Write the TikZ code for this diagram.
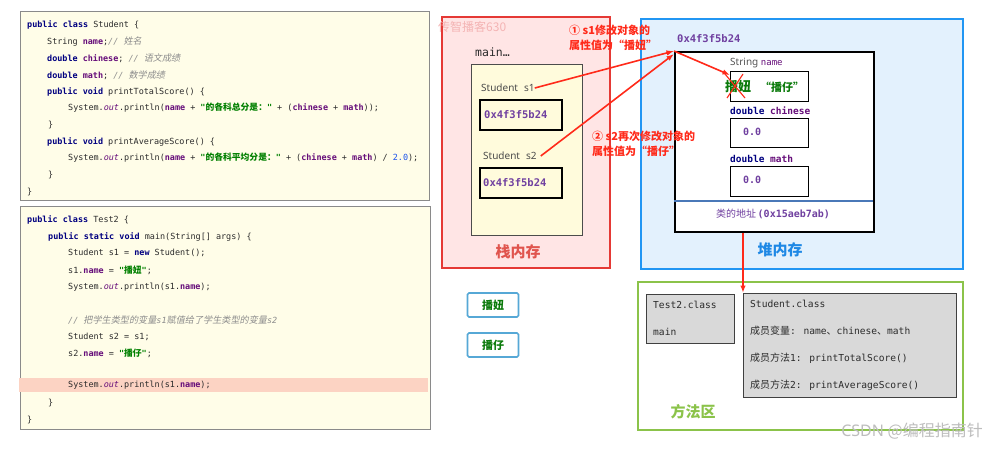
\documentclass[tikz,border=0pt]{standalone}
\usepackage{fontspec}
\setmainfont{Noto Sans}
\newfontfamily\codefont[Ligatures=TeXOff]{DejaVu Sans Mono}
\newfontfamily\cjkfont{Noto Sans CJK SC}
\newfontfamily\cjkcode[Scale=1.04]{Noto Sans CJK SC}
\newfontfamily\cjkitfont[FakeSlant=0.2,Scale=1.08]{Noto Sans CJK SC}
\newfontfamily\wmsans{Noto Sans}
\usetikzlibrary{arrows.meta}
\definecolor{codebg}{HTML}{FFFDE8}
\definecolor{codeframe}{HTML}{8A8A8A}
\definecolor{kwc}{HTML}{000080}
\definecolor{fldcol}{HTML}{660E7A}
\definecolor{strcol}{HTML}{008000}
\definecolor{cmtcol}{HTML}{8C8C8C}
\definecolor{numcol}{HTML}{1750EB}
\definecolor{plain}{HTML}{2B2B2B}
\definecolor{hl}{HTML}{FCD3C3}
\definecolor{stackfill}{HTML}{FFE5E5}
\definecolor{stackline}{HTML}{E53935}
\definecolor{inneryel}{HTML}{FFFBDC}
\definecolor{heapfill}{HTML}{E3F1FD}
\definecolor{heapline}{HTML}{2196F3}
\definecolor{arrowred}{HTML}{FF2A1A}
\definecolor{methline}{HTML}{8BC34A}
\definecolor{classgray}{HTML}{D9D9D9}
\definecolor{addrcol}{HTML}{7040A0}
\definecolor{greentxt}{HTML}{0A7A0A}
\definecolor{wmpink}{HTML}{F4B4B4}
\definecolor{wmgray}{HTML}{BDBDBD}
\definecolor{stacktitle}{HTML}{E0554E}
\definecolor{heaptitle}{HTML}{1E88E5}
\definecolor{methtitle}{HTML}{8BC34A}
\definecolor{divider}{HTML}{4A78B8}
\definecolor{valline}{HTML}{56A8D6}
\newcommand\zh[1]{{\cjkcode#1}}
\newcommand\kwd[1]{\textcolor{kwc}{\bfseries#1}}
\newcommand\fld[1]{\textcolor{fldcol}{\bfseries#1}}
\newcommand\outf[1]{\textcolor{fldcol}{\itshape#1}}
\newcommand\strg[1]{\textcolor{strcol}{\bfseries#1}}
\newcommand\cmt[1]{\textcolor{cmtcol}{\itshape#1}}
\newcommand\zhit[1]{{\cjkitfont#1}}
\newcommand\numv[1]{\textcolor{numcol}{#1}}
\tikzset{
  codebox/.style={draw=codeframe, fill=codebg, line width=0.9pt},
  codeline/.style={anchor=west, inner sep=0pt, font=\codefont\fontsize{8.45}{10}\selectfont, text=plain},
  sanslabel/.style={anchor=west, inner sep=0pt, font=\fontsize{10}{12}\selectfont, text=plain!85},
  addrbox/.style={draw=black, line width=1.2pt, fill=none},
  addrtext/.style={anchor=west, inner sep=0pt, font=\codefont\bfseries\fontsize{10.5}{12}\selectfont, text=addrcol},
  fieldbox/.style={draw=black, line width=1.2pt, fill=white},
  redarrow/.style={draw=arrowred, line width=1.6pt, -{Latex[length=7.5pt,width=5.5pt]}},
  anno/.style={anchor=west, inner sep=0pt, align=left, font=\cjkfont\bfseries\fontsize{11}{15.5}\selectfont, text=arrowred},
  title/.style={inner sep=0pt, font=\cjkfont\bfseries\fontsize{15}{17}\selectfont},
  valbox/.style={draw=valline, line width=1.6pt, rounded corners=1.5pt, fill=white, minimum width=51pt, minimum height=24pt, inner sep=0pt, font=\cjkfont\bfseries\fontsize{11}{13}\selectfont, text=greentxt},
  classbox/.style={draw=black!75, line width=1.1pt, fill=classgray},
  classtext/.style={anchor=west, inner sep=0pt, font=\codefont\fontsize{9.6}{11}\selectfont, text=plain},
}
\begin{document}
\begin{tikzpicture}[x=1pt,y=-1pt]
\useasboundingbox (0,0) rectangle (999,450);
\fill[white] (0,0) rectangle (999,450);

% ---------------- code box 1 ----------------
\draw[codebox] (20,11) rectangle (429,200);
\node[codeline] (a1) at (27,25) {\kwd{public class} Student \{};
\node[codeline] (a2) at (47,42) {String \fld{name};\cmt{// \zhit{姓名}}};
\node[codeline] (a3) at (47,58) {\kwd{double} \fld{chinese}; \cmt{// \zhit{语文成绩}}};
\node[codeline] (a4) at (47,75) {\kwd{double} \fld{math}; \cmt{// \zhit{数学成绩}}};
\node[codeline] (a5) at (47,92) {\kwd{public void} printTotalScore() \{};
\node[codeline] (a6) at (68,108) {System.\outf{out}.println(\fld{name} + \strg{"\zh{的各科总分是：}"} + (\fld{chinese} + \fld{math}));};
\node[codeline] (a7) at (48,125) {\}};
\node[codeline] (a8) at (47,142) {\kwd{public void} printAverageScore() \{};
\node[codeline] (a9) at (68,158) {System.\outf{out}.println(\fld{name} + \strg{"\zh{的各科平均分是：}"} + (\fld{chinese} + \fld{math}) / \numv{2.0});};
\node[codeline] (a10) at (48,175) {\}};
\node[codeline] (a11) at (27,192) {\}};

% ---------------- code box 2 ----------------
\draw[codebox] (20,206) rectangle (430,429);
\fill[hl] (19,378) rectangle (428,392);
\node[codeline] (b1) at (27,220) {\kwd{public class} Test2 \{};
\node[codeline] (b2) at (48,237) {\kwd{public static void} main(String[] args) \{};
\node[codeline] (b3) at (68,253) {Student s1 = \kwd{new} Student();};
\node[codeline] (b4) at (68,270) {s1.\fld{name} = \strg{"\zh{播妞}"};};
\node[codeline] (b5) at (68,287) {System.\outf{out}.println(s1.\fld{name});};
\node[codeline] (b6) at (68,320) {\cmt{// \zhit{把学生类型的变量}s1\zhit{赋值给了学生类型的变量}s2}};
\node[codeline] (b7) at (68,337) {Student s2 = s1;};
\node[codeline] (b8) at (68,353) {s2.\fld{name} = \strg{"\zh{播仔}"};};
\node[codeline] (b9) at (68,385) {System.\outf{out}.println(s1.\fld{name});};
\node[codeline] (b10) at (48,403) {\}};
\node[codeline] (b11) at (27,420) {\}};

% ---------------- stack ----------------
\draw[fill=stackfill, draw=stackline, line width=1.8pt] (442,17) rectangle (610,268);
\node[anchor=west, inner sep=0pt, font=\cjkfont\fontsize{12}{14}\selectfont, text=wmpink] (wm1) at (438,27) {传智播客630};
\node[anchor=west, inner sep=0pt, font=\codefont\fontsize{11.5}{13}\selectfont, text=plain] (mainlab) at (475,52) {main…};
\draw[fill=inneryel, draw=black!70, line width=1pt] (471,64) rectangle (582,235);
\node[sanslabel] (s1lab) at (481,88) {Student\hspace{6pt}s1};
\draw[addrbox] (480,100) rectangle (562,130);
\node[addrtext] (s1addr) at (484,115) {0x4f3f5b24};
\node[sanslabel] (s2lab) at (483,156) {Student\hspace{6pt}s2};
\draw[addrbox] (480,168) rectangle (562,198);
\node[addrtext] (s2addr) at (483,183) {0x4f3f5b24};
\node[title, text=stacktitle] (stacktitle) at (518,252) {栈内存};

% ---------------- heap ----------------
\draw[fill=heapfill, draw=heapline, line width=2.2pt] (641,19) rectangle (963,269);
\node[addrtext] (heapaddr) at (677,39) {0x4f3f5b24};
\node[draw=black, line width=1.5pt, fill=white, anchor=north west, minimum width=199pt, minimum height=180pt, inner sep=0pt] (obj) at (674,51) {};
\coordinate (divl) at (674,201);
\coordinate (divr) at (873,201);
\draw[divider, line width=1.2pt] (divl) -- (divr);
\node[font=\cjkfont\fontsize{10}{12}\selectfont, text=addrcol, inner sep=0pt] (clsaddr) at (773,214) {类的地址\,{\codefont\bfseries (0x15aeb7ab)}};

\node[anchor=west, inner sep=0pt, font=\fontsize{10}{12}\selectfont, text=plain!80] (strlab) at (730,63) {String {\codefont\fontsize{9}{10}\selectfont\textcolor{fldcol}{name}}};
\node[fieldbox, anchor=north west, minimum width=78pt, minimum height=30pt, inner sep=0pt] (namebox) at (730,71) {};
\node[anchor=west, inner sep=0pt, font=\cjkfont\bfseries\fontsize{13}{15}\selectfont, text=greentxt] (oldname) at (725,87) {播妞};
\node[anchor=west, inner sep=0pt, font=\cjkfont\bfseries\fontsize{11}{13}\selectfont, text=greentxt] (newname) at (760,87) {“播仔”};
\draw[arrowred, line width=1.1pt] (725,74) -- (745,98);
\draw[arrowred, line width=1.1pt] (727,98) -- (743,74);

\node[anchor=west, inner sep=0pt, font=\codefont\bfseries\fontsize{9.5}{11}\selectfont] (chlab) at (730,111) {\textcolor{kwc}{double} \textcolor{fldcol}{chinese}};
\node[fieldbox, anchor=north west, minimum width=78pt, minimum height=29pt, inner sep=0pt] (chbox) at (730,118) {};
\node[addrtext, font=\codefont\bfseries\fontsize{10}{12}\selectfont] (chval) at (743,132) {0.0};
\node[anchor=west, inner sep=0pt, font=\codefont\bfseries\fontsize{9.5}{11}\selectfont] (mlab) at (730,159) {\textcolor{kwc}{double} \textcolor{fldcol}{math}};
\node[fieldbox, anchor=north west, minimum width=78pt, minimum height=30pt, inner sep=0pt] (mbox) at (730,166) {};
\node[addrtext, font=\codefont\bfseries\fontsize{10}{12}\selectfont] (mval) at (743,180) {0.0};
\node[title, text=heaptitle] (heaptitle) at (780,250) {堆内存};

% ---------------- value boxes ----------------
\node[valbox] (v1) at (493,305) {播妞};
\node[valbox] (v2) at (493,345) {播仔};

% ---------------- method area ----------------
\draw[fill=white, draw=methline, line width=2.2pt] (638,282) rectangle (963,430);
\node[classbox, anchor=north west, minimum width=88pt, minimum height=49pt, inner sep=0pt] (t2class) at (646,294) {};
\node[classtext] (t2a) at (653,305) {Test2.class};
\node[classtext] (t2b) at (653,332) {main};
\node[classbox, anchor=north west, minimum width=213pt, minimum height=104pt, inner sep=0pt] (stuclass) at (743,293) {};
\node[classtext] (sc1) at (750,304) {Student.class};
\node[classtext] (sc2) at (750,331) {\zh{成员变量}: name\zh{、}chinese\zh{、}math};
\node[classtext] (sc3) at (750,358) {\zh{成员方法}1: printTotalScore()};
\node[classtext] (sc4) at (750,385) {\zh{成员方法}2: printAverageScore()};
\node[title, text=methtitle] (methtitle) at (693,412) {方法区};

% ---------------- annotations & arrows ----------------
\node[anno] (ann1) at (569,38) {① s1修改对象的\\属性值为“播妞”};
\node[anno] (ann2) at (592,144) {② s2再次修改对象的\\属性值为“播仔”};
\draw[redarrow] (s1lab.east) -- (obj.north west);
\draw[redarrow] ([xshift=4pt]s2lab.east) -- ([yshift=-3pt]obj.north west);
\draw[redarrow] (obj.north west) -- ([yshift=-4pt]namebox.north west);
\draw[redarrow] (stuclass.north west |- obj.south) -- (stuclass.north west);

% ---------------- watermark ----------------
\node[anchor=east, inner sep=0pt, font=\cjkfont\fontsize{16}{18}\selectfont, text=wmgray] (wm2) at (983,431) {{\wmsans CSDN} @编程指南针};
\end{tikzpicture}
\end{document}
